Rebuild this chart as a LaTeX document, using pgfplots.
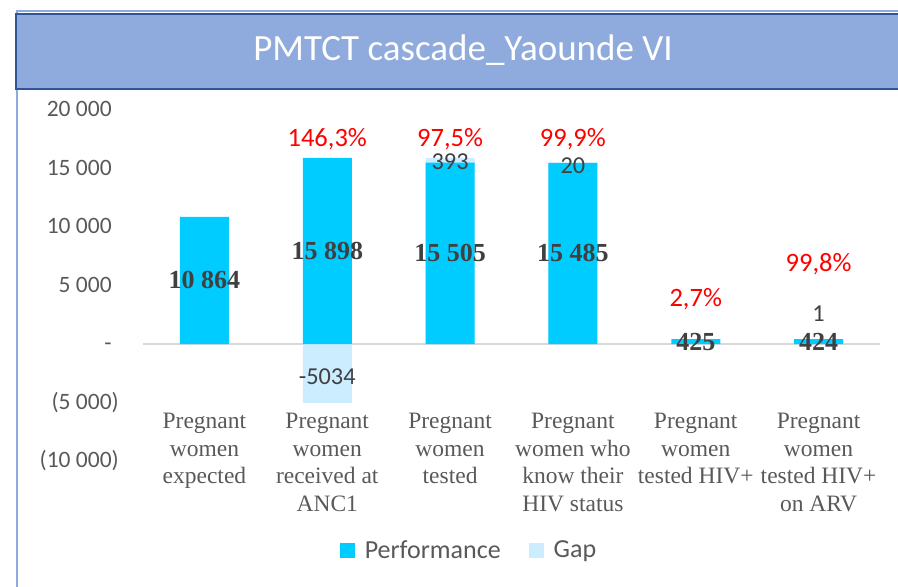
\documentclass[border=0pt]{standalone}
\usepackage{fontspec}
\setmainfont{Carlito}
\newfontfamily\serif{Liberation Serif}
\usepackage{pgfplots}
\pgfplotsset{compat=1.18}
\usepackage{xcolor}

\definecolor{perf}{HTML}{00CCFF}
\definecolor{gap}{HTML}{CCECFF}
\definecolor{titlefill}{HTML}{8FAADC}
\definecolor{titleborder}{HTML}{2F5597}
\definecolor{txt}{HTML}{595959}
\definecolor{dark}{HTML}{404040}
\definecolor{zero}{HTML}{D9D9D9}

\begin{document}
\begin{tikzpicture}
% page frame, 1pt = 1px of the reference
\path[use as bounding box] (0,0) rectangle (898pt,-587pt);
\draw[titlefill, line width=1.5pt] (17pt,-590pt) -- (17pt,-11pt) -- (905pt,-11pt);
\draw[titleborder, line width=2pt, fill=titlefill] (16pt,-14pt) rectangle (905pt,-89pt);
\node[white, font=\fontsize{37}{40}\selectfont] at (463pt,-50pt) {PMTCT cascade\_Yaounde VI};

\begin{axis}[
  at={(143pt,-461pt)}, anchor=south west,
  scale only axis, width=737pt, height=351pt,
  xmin=-0.5, xmax=5.5,
  ymin=-10000, ymax=20000,
  scaled y ticks=false,
  axis line style={draw=none},
  major tick length=0pt,
  xtick={0,1,2,3,4,5},
  xticklabels={{Pregnant\\women\\expected},
               {Pregnant\\women\\received at\\ANC1},
               {Pregnant\\women\\tested},
               {Pregnant\\women who\\know their\\HIV status},
               {Pregnant\\women\\tested HIV+},
               {Pregnant\\women\\tested HIV+\\on ARV}},
  xticklabel style={align=center, text=txt, yshift=51pt,
    font=\serif\fontsize{23.5}{27.5}\selectfont},
  ytick={-10000,-5000,0,5000,10000,15000,20000},
  yticklabels={(10 000),(5 000),-\phantom{)},5 000\phantom{)},10 000\phantom{)},15 000\phantom{)},20 000\phantom{)}},
  yticklabel style={anchor=east, inner sep=0pt, xshift=-24pt, text=txt,
    font=\fontsize{23.5}{26}\selectfont},
  /pgf/number format/assume math mode=true,
  legend style={at={(0.4423,-0.2536)}, anchor=center, draw=none,
    legend columns=2, font=\fontsize{26}{28}\selectfont, text=txt,
    /tikz/every odd column/.append style={column sep=8pt},
    /tikz/every even column/.append style={column sep=26pt},
    legend cell align=left},
  legend image code/.code={\fill[#1] (0pt,-7.5pt) rectangle (15pt,7.5pt);},
  clip=false,
]
\addlegendimage{fill=perf, draw=none}
\addlegendentry{Performance}
\addlegendimage{fill=gap, draw=none}
\addlegendentry{Gap}

% zero line
\addplot[zero, line width=2pt, forget plot] coordinates {(-0.5,0) (5.5,0)};

% Gap: top of the bar = performance + gap (ANC1 gap -5034 drawn below zero)
\addplot[ybar, bar width=49pt, bar shift=0pt, fill=gap, draw=none, forget plot]
  coordinates {(1,-5034) (2,15898) (3,15505) (5,425)};

% Performance
\addplot[ybar, bar width=49pt, bar shift=0pt, fill=perf, draw=none, forget plot]
  coordinates {(0,10864) (1,15898) (2,15505) (3,15485) (4,425) (5,424)};

% performance values
\begin{scope}[every node/.style={text=dark, font=\serif\bfseries\fontsize{26}{28}\selectfont}]
\node at (axis cs:0,5432) {10 864};
\node at (axis cs:1,7949) {15 898};
\node at (axis cs:2,7752) {15 505};
\node at (axis cs:3,7742) {15 485};
\node at (axis cs:4,212) {425};
\node at (axis cs:5,212) {424};
\end{scope}

% gap values
\begin{scope}[every node/.style={text=dark, font=\fontsize{24.3}{26}\selectfont}]
\node at (axis cs:1,-2820) {-5034};
\node at (axis cs:2,15556) {393};
\node at (axis cs:3,15214) {20};
\node at (axis cs:5,2564) {1};
\end{scope}

% percentages
\begin{scope}[every node/.style={text=red, font=\fontsize{26.5}{28}\selectfont}]
\node at (axis cs:1,17521) {146,3\%};
\node at (axis cs:2,17521) {97,5\%};
\node at (axis cs:3,17521) {99,9\%};
\node at (axis cs:4,3846) {2,7\%};
\node at (axis cs:5,6838) {99,8\%};
\end{scope}
\end{axis}
\end{tikzpicture}
\end{document}
